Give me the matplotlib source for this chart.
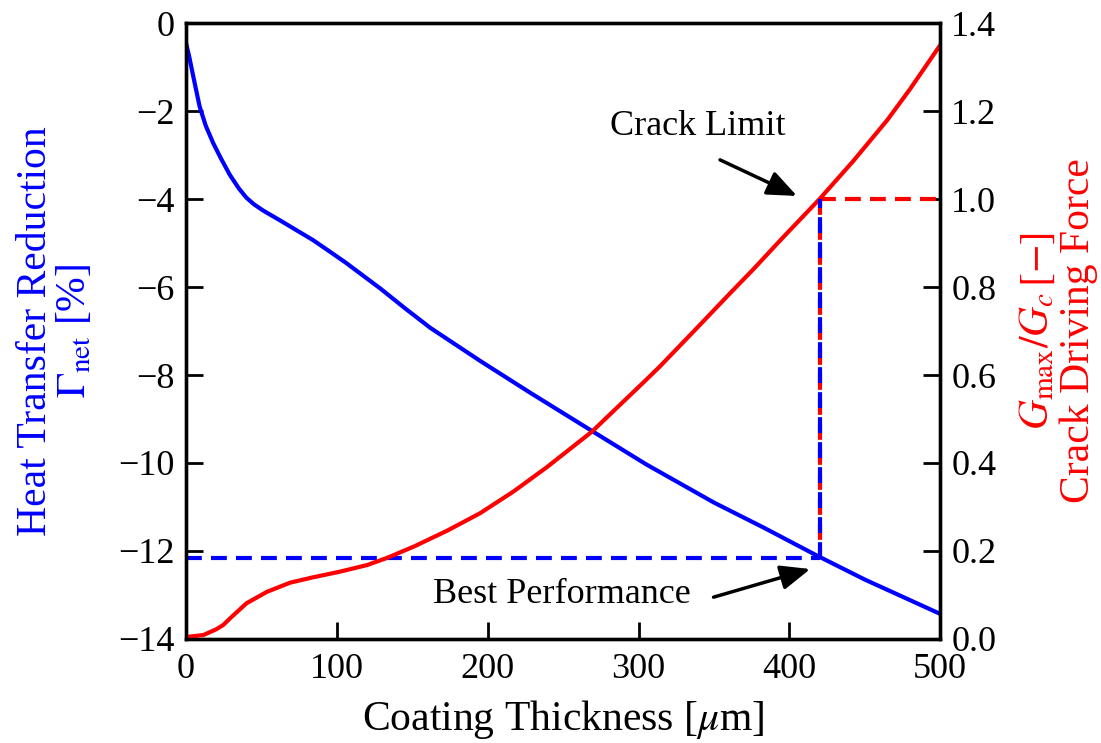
import matplotlib
matplotlib.use("Agg")
import matplotlib.pyplot as plt

plt.rcParams["font.family"] = ["Liberation Serif", "DejaVu Serif"]
plt.rcParams["mathtext.fontset"] = "stix"

# coating thickness [um] and heat-transfer reduction [%]
thick_gamma = [0, 2, 5, 9, 13, 18, 23, 29, 35, 40, 45, 51, 62, 84, 95.5, 106,
               129, 145, 162, 195, 228, 269, 305, 350, 383, 418, 450, 500]
gamma_net = [-0.46, -0.75, -1.25, -1.9, -2.33, -2.73, -3.07, -3.45, -3.76,
             -3.97, -4.12, -4.26, -4.48, -4.93, -5.2, -5.45, -6.04, -6.48,
             -6.93, -7.68, -8.4, -9.27, -10.03, -10.9, -11.47, -12.1,
             -12.65, -13.43]

# coating thickness [um] and crack driving force G_max/G_c
thick_crack = [0, 1.5, 11.5, 20, 24.7, 29.2, 40, 53.5, 69, 84, 102, 120, 133,
               151, 173, 195, 217, 239, 269, 305, 314, 339, 361, 376, 395,
               420, 442, 465, 480, 495, 500]
g_ratio = [0, 0.005, 0.009, 0.022, 0.032, 0.047, 0.081, 0.107, 0.128, 0.14,
           0.153, 0.168, 0.184, 0.21, 0.246, 0.286, 0.335, 0.39, 0.471,
           0.589, 0.619, 0.708, 0.787, 0.84, 0.91, 1.0, 1.085, 1.18, 1.25,
           1.325, 1.35]

crack_limit_x = 420
best_gamma = -12.15
best_g = 0.184

FS = 26
LFS = 30
DASH = (0, (3.8, 2.2))

fig = plt.figure(figsize=(11.01, 7.43), dpi=100)
ax = fig.add_axes([0.169, 0.140, 0.685, 0.829])
ax2 = ax.twinx()

ax.plot(thick_gamma, gamma_net, color="blue", lw=3)
ax.plot([0, crack_limit_x], [best_gamma, best_gamma], color="blue", lw=3,
        ls=DASH)

ax2.plot(thick_crack, g_ratio, color="red", lw=3)
ax2.plot([crack_limit_x, 500], [1.0, 1.0], color="red", lw=3, ls=DASH)
ax2.plot([crack_limit_x, crack_limit_x], [1.0, best_g], color="red", lw=3,
         ls=DASH)
# blue part of the vertical drop line (same pixels as Gamma -12.15 .. -4)
ax2.plot([crack_limit_x, crack_limit_x], [best_g, 1.0], color="blue", lw=3,
         ls=DASH)

ax.set_xlim(0, 500)
ax.set_ylim(-14, 0)
ax2.set_ylim(0, 1.4)
ax.set_xticks([0, 100, 200, 300, 400, 500])
ax.set_yticks(range(-14, 1, 2))
ax2.set_yticks([0, 0.2, 0.4, 0.6, 0.8, 1.0, 1.2, 1.4])
ax2.set_yticklabels(["0.0", "0.2", "0.4", "0.6", "0.8", "1.0", "1.2", "1.4"])

for a in (ax, ax2):
    for s in a.spines.values():
        s.set_linewidth(2.4)
    a.tick_params(direction="in", length=12, width=2, labelsize=FS, pad=8)
ax.tick_params(axis="x", pad=10)

ax.set_xlabel(r"Coating Thickness [$\mu$m]", fontsize=LFS, labelpad=9)
ax.set_ylabel("Heat Transfer Reduction\n" + r"$\Gamma_{\mathrm{net}}$ [%]",
              fontsize=LFS, color="blue", linespacing=1.0)
ax.yaxis.set_label_coords(-0.122, 0.5)
ax2.set_ylabel(r"$G_{\mathrm{max}}/G_c\,[-]$" + "\nCrack Driving Force",
               fontsize=LFS, color="red", linespacing=1.08)
ax2.yaxis.set_label_coords(1.103, 0.5)

arrow = dict(arrowstyle="-|>,head_length=0.6,head_width=0.25", color="black",
             lw=2.5, mutation_scale=30, shrinkA=0, shrinkB=0)
ax2.text(339.5, 1.164, "Crack Limit", fontsize=FS, ha="center", va="center")
ax2.annotate("", xy=(405, 1.007), xytext=(354, 1.089), arrowprops=arrow)
ax.text(249, -13.0, "Best Performance", fontsize=FS, ha="center", va="center")
ax.annotate("", xy=(413.8, -12.41), xytext=(349.7, -13.05), arrowprops=arrow)

fig.savefig("out.png", dpi=100)
